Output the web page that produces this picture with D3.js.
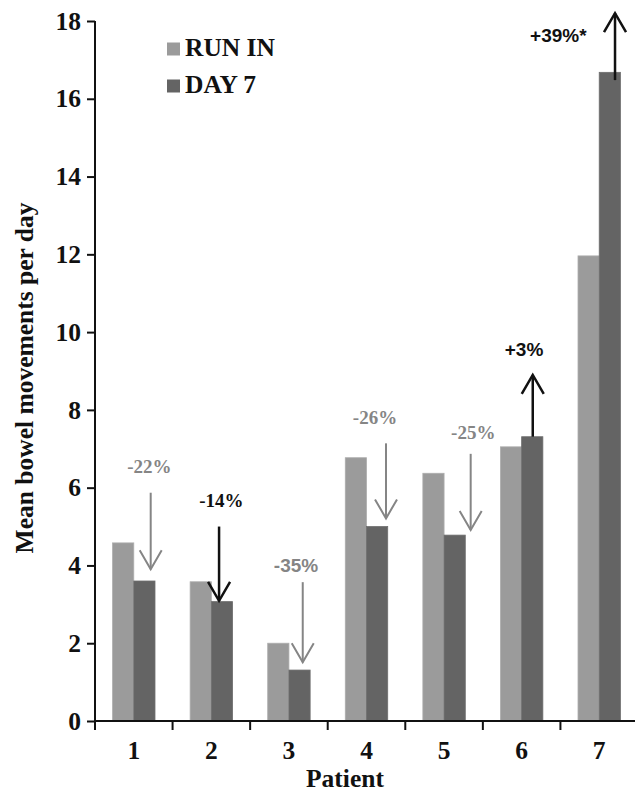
<!DOCTYPE html>
<html><head><meta charset="utf-8">
<script src="https://cdn.jsdelivr.net/npm/d3@7"></script>
<style>
html,body{margin:0;padding:0;background:#fff;}
svg{display:block;}
</style></head>
<body>
<svg id="chart" width="635" height="795"></svg>
<script>
// ---- data ----
const patients = ["1","2","3","4","5","6","7"];
const seriesNames = ["RUN IN","DAY 7"];
const runIn = [4.58, 3.58, 2.00, 6.77, 6.37, 7.05, 11.96];
const day7  = [3.60, 3.07, 1.31, 5.00, 4.78, 7.31, 16.68];
const yTicks = [0,2,4,6,8,10,12,14,16,18];
const changeLabels = ["-22%","-14%","-35%","-26%","-25%","+3%","+39%*"];
const arrowFrom = [5.87, 5.00, 3.57, 7.14, 6.87, 7.31, 16.48];
const arrowTo   = [3.90, 3.09, 1.51, 5.21, 4.91, 8.90, 18.20];
const labelAt   = [6.56, 5.68, 4.00, 7.82, 7.41, 9.56, 17.64];

// ---- layout / style ----
const arrowDx = [6.3, -2.9, 3.2, 8.9, 16, 0.5, 5.2];
const textDx  = [4.9, -0.5, -3.5, -2.1, 18.6, -8.2, -51.5];
const annoStyle = [
  {c:"#858585", f:"'Liberation Serif', serif", w:2},
  {c:"#111",    f:"'Liberation Serif', serif", w:2.5},
  {c:"#858585", f:"'Liberation Sans', sans-serif", w:2},
  {c:"#858585", f:"'Liberation Serif', serif", w:2},
  {c:"#858585", f:"'Liberation Serif', serif", w:2},
  {c:"#111",    f:"'Liberation Sans', sans-serif", w:2.5},
  {c:"#111",    f:"'Liberation Sans', sans-serif", w:2.5}
];
const colors = ["#9b9b9b", "#646464"];
const serif = "'Liberation Serif', 'Times New Roman', serif";
const fs = 25.5;

const svg = d3.select("#chart");
const x = d3.scaleBand().domain(patients).range([95, 638]).paddingInner(0.453).paddingOuter(0.2265);
const x1 = d3.scaleBand().domain(seriesNames).range([0, x.bandwidth()]);
const y = d3.scaleLinear().domain([0, 18]).range([721, 21]);

// bars
const rows = patients.map((p,i)=>({p, vals:[runIn[i], day7[i]]}));
const g = svg.append("g");
rows.forEach(r=>{
  r.vals.forEach((v,k)=>{
    g.append("rect")
      .attr("x", x(r.p) + x1(seriesNames[k]))
      .attr("y", y(v))
      .attr("width", x1.bandwidth())
      .attr("height", y(0) - y(v))
      .attr("fill", colors[k])
      .attr("stroke", k===0 ? "#adadad" : "#6e6e6e")
      .attr("stroke-width", 0.8);
  });
});

// y axis
const yAxis = d3.axisLeft(y).tickValues(yTicks).tickSize(8).tickPadding(6).tickFormat(d3.format("d"));
const ya = svg.append("g").attr("transform","translate(95,0)").call(yAxis);
ya.select(".domain").remove();
ya.selectAll(".tick line").attr("stroke","#111").attr("stroke-width",2);
ya.selectAll(".tick text").attr("font-family", serif).attr("font-weight","bold").attr("font-size",fs).attr("fill","#111");
svg.append("line").attr("x1",95).attr("x2",95).attr("y1",y(18)).attr("y2",730).attr("stroke","#111").attr("stroke-width",2);

// x axis: labels at centers, ticks at boundaries
const xa = svg.append("g").attr("transform","translate(0,721)")
  .call(d3.axisBottom(x).tickSize(0).tickPadding(20));
xa.select(".domain").remove();
xa.selectAll(".tick text").attr("font-family", serif).attr("font-weight","bold").attr("font-size",fs).attr("fill","#111");
svg.append("line").attr("x1",94).attr("x2",635).attr("y1",721).attr("y2",721).attr("stroke","#111").attr("stroke-width",2);
const gap = x.step()*x.paddingInner()/2;
patients.slice(1).forEach(p=>{
  const bx = x(p) - gap;
  svg.append("line").attr("x1",bx).attr("x2",bx).attr("y1",721).attr("y2",730).attr("stroke","#111").attr("stroke-width",2);
});

// axis titles
svg.append("text").attr("x",345).attr("y",787).attr("text-anchor","middle")
  .attr("font-family",serif).attr("font-weight","bold").attr("font-size",fs).attr("fill","#111").text("Patient");
svg.append("text").attr("transform","translate(33,378) rotate(-90)").attr("text-anchor","middle")
  .attr("font-family",serif).attr("font-weight","bold").attr("font-size",fs).attr("fill","#111")
  .text("Mean bowel movements per day");

// legend
seriesNames.forEach((s,k)=>{
  const ly = 49 + k*37;
  svg.append("rect").attr("x",167).attr("y",ly-6.5).attr("width",13).attr("height",13).attr("fill",colors[k]);
  svg.append("text").attr("x",185).attr("y",ly+7).attr("font-family",serif).attr("font-weight","bold")
    .attr("font-size",fs).attr("fill","#111").text(s);
});

// annotations
patients.forEach((p,i)=>{
  const st = annoStyle[i];
  const cx = x(p) + x1("DAY 7") + x1.bandwidth()/2;
  const ax = cx + arrowDx[i];
  const y0 = y(arrowFrom[i]), y1v = y(arrowTo[i]);
  const dir = y1v > y0 ? 1 : -1;
  svg.append("line").attr("x1",ax).attr("x2",ax).attr("y1",y0).attr("y2",y1v)
    .attr("stroke",st.c).attr("stroke-width",st.w);
  svg.append("path")
    .attr("d",`M${ax-11},${y1v-dir*19} L${ax},${y1v} L${ax+11},${y1v-dir*19}`)
    .attr("fill","none").attr("stroke",st.c).attr("stroke-width",st.w).attr("stroke-linejoin","miter");
  svg.append("text").attr("x",cx+textDx[i]).attr("y",y(labelAt[i])).attr("dy","0.35em")
    .attr("text-anchor","middle").attr("font-family",st.f).attr("font-weight","bold")
    .attr("font-size",19).attr("fill",st.c).text(changeLabels[i]);
});
</script>
</body></html>
